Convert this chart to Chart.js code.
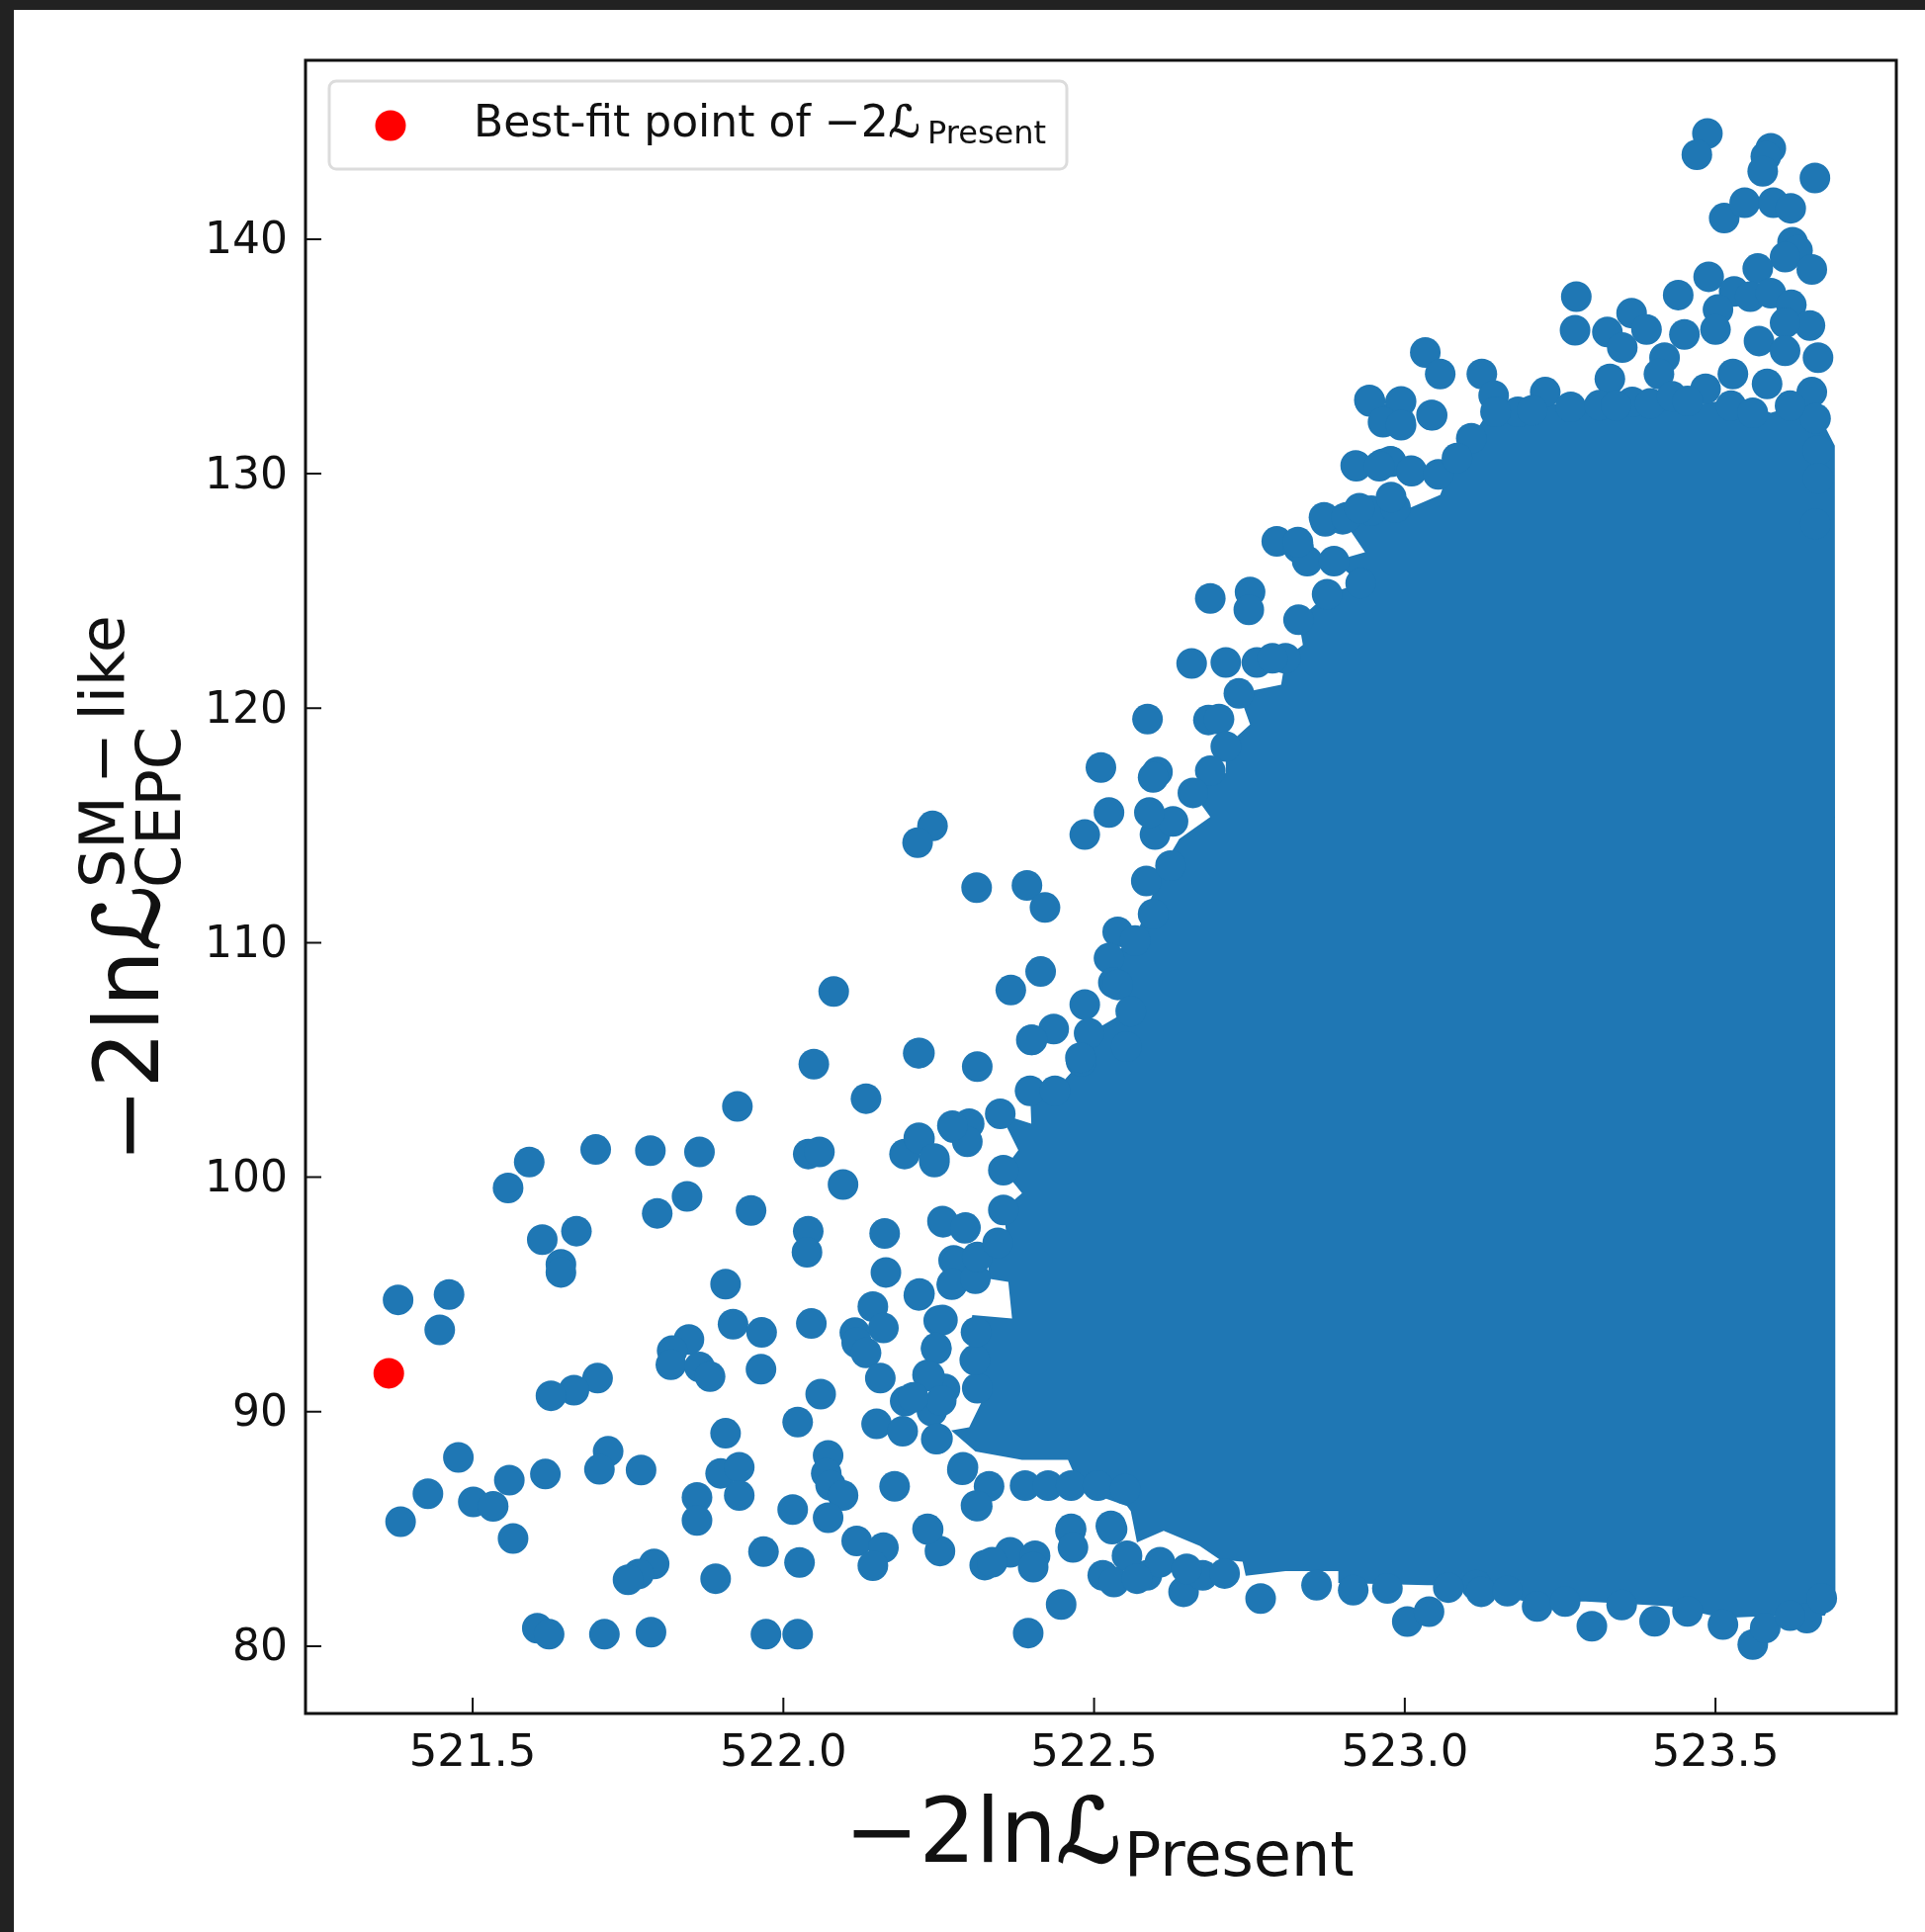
<!DOCTYPE html>
<html>
<head>
<meta charset="utf-8">
<script src="https://cdn.jsdelivr.net/npm/chart.js@4"></script>
<style>
  html, body { margin: 0; height: 100%; background: #222; overflow: hidden; }
  #wrap { position: absolute; left: 14px; top: 10px; width: 1933px; height: 1944px; background: #fff; }
  canvas { filter: blur(0.6px); }
</style>
</head>
<body>
<div id="wrap"><canvas id="myChart" width="1933" height="1944"></canvas></div>
<script>
var xTicks = [521.5, 522.0, 522.5, 523.0, 523.5];
var yTicks = [80, 90, 100, 110, 120, 130, 140];

var bestFitX = [521.365];
var bestFitY = [91.64];

// lone points, left of the solid part
var sparseX = [
  521.380, 521.462, 521.447, 521.591, 521.557, 521.698, 521.786, 521.865, 521.926, 522.133,
  522.040, 522.058, 522.096, 521.845, 521.797, 521.948, 521.667, 521.612, 521.642, 521.642,
  522.040, 522.038, 522.163, 522.165, 521.907, 522.218, 522.144, 522.161, 522.045, 521.919,
  521.965, 521.848, 521.821, 521.819, 521.865, 521.882, 521.964, 522.115, 522.118, 522.133,
  522.156, 521.701, 521.663, 521.626, 522.060, 522.023, 521.907, 521.477, 521.718, 521.704,
  521.771, 521.617, 521.559, 521.428, 521.501, 521.533, 521.384, 521.565, 521.899, 521.929,
  521.929, 521.861, 521.861, 522.072, 522.069, 522.076, 522.096, 522.072, 522.015, 522.179,
  521.968, 522.026, 522.118, 522.161, 522.144, 522.233, 522.252, 522.324, 521.792, 521.767,
  521.750, 521.891, 521.604, 521.623, 521.712, 521.787, 521.972, 522.023, 522.081, 522.217,
  522.049, 522.312, 522.240, 522.216, 522.311, 522.392, 522.421, 522.414, 522.366, 522.435,
  522.399, 522.485, 522.524, 522.511, 522.586, 522.602, 522.595
];
var sparseY = [
  94.77, 95.00, 93.49, 100.65, 99.54, 101.18, 101.13, 101.08, 103.02, 103.35,
  100.99, 101.08, 99.69, 99.18, 98.46, 98.58, 97.70, 97.34, 96.28, 95.94,
  97.70, 96.80, 97.60, 95.94, 95.44, 94.96, 94.48, 93.57, 93.76, 93.73,
  93.38, 93.08, 92.60, 92.00, 91.91, 91.50, 91.81, 93.37, 92.94, 92.51,
  91.43, 91.43, 90.92, 90.68, 90.75, 89.56, 89.08, 88.05, 88.31, 87.54,
  87.51, 87.34, 87.08, 86.50, 86.15, 85.96, 85.31, 84.59, 87.37, 87.63,
  86.43, 86.34, 85.36, 88.14, 87.37, 86.86, 86.43, 85.48, 85.83, 86.82,
  84.03, 83.57, 84.49, 84.20, 83.43, 84.97, 84.06, 83.46, 83.51, 83.08,
  82.83, 82.88, 80.77, 80.51, 80.51, 80.60, 80.51, 80.51, 107.92, 105.29,
  104.82, 104.72, 114.98, 114.27, 112.35, 112.44, 111.50, 108.77, 107.98, 106.32,
  105.85, 114.61, 115.55, 117.47, 119.54, 117.28, 117.05
];

// crowded points hugging the left edge of the solid part
var leftEdgeX = [
  522.195, 522.218, 522.243, 522.274, 522.299, 522.296, 522.257, 522.292, 522.274, 522.271,
  522.250, 522.246, 522.232, 522.260, 522.196, 522.150, 522.192, 522.246, 522.239, 522.289,
  522.310, 522.219, 522.400, 522.479, 522.397, 522.437, 522.349, 522.272, 522.219, 522.243,
  522.354, 522.354, 522.256, 522.293, 522.280, 522.272, 522.219, 522.309, 522.256, 522.246,
  522.235, 522.254, 522.209, 522.248, 522.288, 522.331, 522.312, 522.389, 522.426, 522.463,
  522.506, 522.232, 522.463, 522.527, 522.550, 522.312, 522.308, 522.310, 522.312, 522.345
];
var leftEdgeY = [
  100.99, 101.68, 100.65, 102.11, 102.28, 101.51, 98.08, 97.82, 96.45, 95.42,
  93.88, 92.68, 91.57, 90.97, 90.45, 89.48, 89.17, 88.83, 90.03, 87.63,
  86.00, 105.30, 105.86, 104.95, 103.68, 103.68, 102.70, 102.20, 101.64, 100.80,
  100.30, 98.60, 98.13, 97.85, 96.37, 95.46, 95.04, 95.67, 93.91, 92.72,
  91.52, 90.47, 90.61, 88.85, 87.52, 86.82, 85.97, 86.85, 86.85, 86.85,
  86.85, 85.00, 85.00, 85.13, 86.70, 91.00, 92.20, 93.40, 96.60, 97.20
];

// points along the upper edge, up to the top right corner
var upperEdgeX = [
  522.598, 522.627, 522.589, 522.584, 522.538, 522.524, 522.531, 522.485, 522.492, 522.478,
  522.657, 522.712, 522.762, 522.687, 522.751, 522.749, 522.829, 522.808, 522.733, 522.684,
  522.701, 522.712, 522.687, 522.659, 522.794, 522.829, 522.843, 522.886, 522.872, 522.900,
  522.875, 522.922, 522.964, 522.978, 523.010, 522.943, 522.993, 522.968, 522.993, 523.044,
  523.487, 523.470, 523.589, 523.581, 523.576, 523.660, 523.514, 523.547, 523.593, 523.621,
  523.624, 523.632, 523.612, 523.655, 523.568, 523.489, 523.276, 523.274, 523.440, 523.365,
  523.326, 523.389, 523.350, 523.450, 523.530, 523.504, 523.500, 523.556, 523.589, 523.622,
  523.652, 523.570, 523.612, 523.612, 523.665, 523.583, 523.528, 523.330, 523.418, 523.409,
  523.033, 523.057, 523.124, 523.143, 523.226, 522.944, 522.994, 522.965, 522.994, 523.043,
  522.921, 522.977, 522.959, 523.011, 523.107, 523.054, 523.084, 523.182, 523.146, 523.267,
  523.313, 523.366, 523.484, 523.655, 523.661, 523.665, 523.665, 523.661, 522.870, 522.906,
  522.946, 522.985, 522.828, 522.927, 522.978, 522.929, 522.787, 522.623, 522.595, 522.566,
  522.538, 522.559, 522.552, 523.205, 523.340, 523.395, 523.430, 523.455, 523.525, 523.560,
  523.620
];
var upperEdgeY = [
  114.61, 115.17, 115.55, 112.63, 110.46, 109.34, 108.30, 107.36, 106.14, 105.10,
  121.91, 121.95, 121.95, 124.68, 124.96, 124.20, 123.77, 122.13, 120.63, 119.50,
  119.54, 118.37, 117.33, 116.39, 127.12, 126.84, 126.27, 126.27, 127.97, 128.06,
  124.86, 130.32, 130.42, 130.51, 130.13, 133.15, 133.05, 132.30, 132.20, 132.49,
  144.51, 143.60, 143.88, 143.53, 142.90, 142.61, 140.90, 141.56, 141.56, 141.32,
  139.87, 139.52, 139.24, 138.71, 138.75, 138.40, 137.55, 136.12, 137.62, 136.85,
  136.04, 136.15, 135.38, 135.94, 137.77, 137.00, 136.15, 137.55, 137.70, 137.20,
  136.32, 135.66, 136.43, 135.24, 134.95, 133.83, 134.25, 134.04, 134.95, 134.25,
  135.17, 134.25, 134.25, 133.34, 133.48, 133.08, 133.08, 132.20, 132.07, 132.50,
  130.35, 130.53, 130.32, 130.11, 131.51, 129.97, 130.67, 132.64, 132.64, 132.85,
  132.92, 133.06, 133.62, 133.48, 132.36, 131.00, 129.80, 127.86, 128.14, 128.14,
  128.42, 128.56, 127.08, 128.53, 129.00, 125.33, 122.13, 113.29, 111.22, 110.09,
  108.20, 107.08, 105.57, 132.70, 132.90, 133.00, 133.30, 133.10, 132.90, 132.60,
  132.90
];

// points along the lower edge
var lowerEdgeX = [
  522.394, 522.447, 522.462, 522.466, 522.365, 522.405, 522.402, 522.336, 522.529, 522.514,
  522.532, 522.585, 522.644, 522.675, 522.768, 522.858, 522.917, 522.972, 523.004, 523.039,
  523.115, 523.213, 523.258, 523.301, 523.349, 523.402, 523.455, 523.512, 523.560, 523.580,
  523.647, 523.671, 522.553, 522.606, 522.649, 522.569, 523.123, 523.165, 523.070, 523.620,
  522.710
];
var lowerEdgeY = [
  80.56, 81.78, 84.92, 84.21, 84.00, 83.86, 83.37, 83.58, 84.99, 83.02,
  82.74, 83.02, 82.32, 83.02, 82.03, 82.60, 82.39, 82.46, 81.05, 81.47,
  82.60, 81.69, 81.90, 80.85, 81.76, 81.06, 81.48, 80.92, 80.07, 80.78,
  81.20, 82.04, 83.86, 83.58, 83.30, 82.88, 82.32, 82.35, 82.50, 81.30,
  83.10
];

// the middle of the cloud is solid ink, single points can't be read there,
// so its outline is traced off the picture and filled
var coreX = [
  523.692, 523.693, 523.676, 523.599, 523.512, 523.426, 523.291, 523.195, 523.126, 523.084,
  523.036, 522.893, 522.893, 522.808, 522.744, 522.739, 522.702, 522.670, 522.612, 522.569,
  522.559, 522.553, 522.479, 522.458, 522.384, 522.309, 522.270, 522.299, 522.320, 522.304,
  522.299, 522.304, 522.368, 522.362, 522.330, 522.330, 522.362, 522.354, 522.384, 522.354,
  522.378, 522.349, 522.399, 522.397, 522.437, 522.479, 522.478, 522.492, 522.552, 522.524,
  522.567, 522.616, 522.637, 522.687, 522.659, 522.712, 522.712, 522.751, 522.733, 522.801,
  522.808, 522.836, 522.829, 522.875, 522.929, 522.886, 522.936, 522.900, 523.007, 523.057,
  523.078, 523.107, 523.143, 523.226, 523.366, 523.484, 523.528, 523.589, 523.655
];
var coreY = [
  131.2, 82.3, 81.3, 81.3, 81.2, 81.7, 81.9, 81.9, 82.3, 82.6,
  82.6, 82.7, 83.2, 83.2, 83.0, 83.6, 83.7, 84.28, 84.92, 84.42,
  85.76, 85.97, 86.67, 87.95, 87.95, 88.3, 89.2, 89.34, 90.47, 91.88,
  93.28, 94.12, 93.98, 95.53, 95.67, 96.93, 96.93, 98.62, 99.32, 100.3,
  101.15, 102.7, 102.28, 103.68, 103.68, 104.95, 105.1, 106.14, 107.07, 109.34,
  110.28, 113.48, 114.42, 115.36, 116.39, 117.24, 118.37, 119.31, 120.63, 121.0,
  122.13, 122.7, 123.77, 124.86, 125.33, 126.27, 126.65, 128.06, 128.53, 129.1,
  130.6, 131.51, 133.0, 133.0, 132.8, 133.0, 133.2, 132.6, 133.1
];

var blue = '#1f77b4';
var red = '#ff0000';
var ink = '#111';
var textFont = '"DejaVu Sans"';
var scriptL = '\u2112';

function pairs(xs, ys) {
  return xs.map(function (x, i) { return { x: x, y: ys[i] }; });
}

function putText(ctx, str, x, y, size, angle) {
  ctx.save();
  ctx.translate(x, y);
  if (angle) ctx.rotate(angle);
  ctx.font = size + 'px ' + textFont;
  ctx.fillStyle = ink;
  ctx.textBaseline = 'alphabetic';
  ctx.textAlign = 'left';
  ctx.fillText(str, 0, 0);
  // the script L comes out thin in DejaVu, go over it once more
  var at = str.indexOf(scriptL);
  if (at >= 0) {
    ctx.strokeStyle = ink;
    ctx.lineWidth = size / 40;
    ctx.strokeText(scriptL, ctx.measureText(str.slice(0, at)).width, 0);
  }
  ctx.restore();
}

// frame, inward ticks, the legend and the two math axis titles
var decorations = {
  id: 'decorations',
  afterDraw: function (chart) {
    var ctx = chart.ctx;
    var area = chart.chartArea;

    ctx.save();
    ctx.strokeStyle = ink;
    ctx.lineWidth = 2;
    ctx.beginPath();
    xTicks.forEach(function (v) {
      var px = chart.scales.x.getPixelForValue(v);
      ctx.moveTo(px, area.bottom);
      ctx.lineTo(px, area.bottom - 16);
    });
    yTicks.forEach(function (v) {
      var py = chart.scales.y.getPixelForValue(v);
      ctx.moveTo(area.left, py);
      ctx.lineTo(area.left + 16, py);
    });
    ctx.stroke();
    ctx.lineWidth = 3;
    ctx.strokeRect(area.left, area.top, area.right - area.left, area.bottom - area.top);

    // legend
    ctx.fillStyle = 'rgba(255,255,255,0.8)';
    ctx.strokeStyle = '#dcdcdc';
    ctx.lineWidth = 3;
    ctx.beginPath();
    ctx.roundRect(319, 72, 746, 89, 7);
    ctx.fill();
    ctx.stroke();
    ctx.fillStyle = red;
    ctx.beginPath();
    ctx.arc(381, 117, 15.5, 0, Math.PI * 2);
    ctx.fill();
    ctx.restore();

    putText(ctx, 'Best-fit point of \u22122' + scriptL, 465, 128, 44);
    putText(ctx, 'Present', 924, 135, 32);

    putText(ctx, '\u22122ln' + scriptL, 840, 1873, 90);
    putText(ctx, 'Present', 1123, 1887, 62);

    putText(ctx, '\u22122ln' + scriptL, 146, 1166, 90, -Math.PI / 2);
    putText(ctx, 'SM\u2009\u2212\u2009like', 111, 888, 62, -Math.PI / 2);
    putText(ctx, 'CEPC', 168, 888, 62, -Math.PI / 2);
  }
};

var ctx = document.getElementById('myChart').getContext('2d');
var scatterChart = new Chart(ctx, {
  type: 'scatter',
  data: {
    datasets: [
      {
        label: 'Best-fit point',
        data: pairs(bestFitX, bestFitY),
        backgroundColor: red,
        pointRadius: 15.5,
        pointBorderWidth: 0,
        order: 0
      },
      {
        label: 'Scan points',
        data: pairs(
          sparseX.concat(leftEdgeX, upperEdgeX, lowerEdgeX),
          sparseY.concat(leftEdgeY, upperEdgeY, lowerEdgeY)
        ),
        backgroundColor: blue,
        pointRadius: 15.5,
        pointBorderWidth: 0,
        order: 1
      },
      {
        label: 'Solid core',
        data: pairs(coreX, coreY),
        showLine: true,
        fill: 'shape',
        backgroundColor: blue,
        borderWidth: 0,
        pointRadius: 0,
        order: 2
      }
    ]
  },
  plugins: [decorations],
  options: {
    responsive: false,
    animation: false,
    layout: { padding: { top: 51, right: 29, left: 0, bottom: 0 } },
    plugins: { legend: { display: false }, tooltip: { enabled: false } },
    scales: {
      x: {
        type: 'linear',
        min: 521.231,
        max: 523.791,
        afterBuildTicks: function (axis) {
          axis.ticks = xTicks.map(function (v) { return { value: v }; });
        },
        afterFit: function (axis) { axis.height = 221; },
        grid: { display: false, drawTicks: false },
        border: { display: false },
        ticks: {
          padding: 14,
          maxRotation: 0,
          color: ink,
          font: { family: textFont, size: 45 },
          callback: function (v) { return v.toFixed(1); }
        }
      },
      y: {
        type: 'linear',
        min: 77.13,
        max: 147.63,
        afterBuildTicks: function (axis) {
          axis.ticks = yTicks.map(function (v) { return { value: v }; });
        },
        afterFit: function (axis) { axis.width = 295; },
        grid: { display: false, drawTicks: false },
        border: { display: false },
        ticks: {
          padding: 18,
          labelOffset: 3,
          color: ink,
          font: { family: textFont, size: 44 },
          callback: function (v) { return String(v); }
        }
      }
    }
  }
});
</script>
</body>
</html>
